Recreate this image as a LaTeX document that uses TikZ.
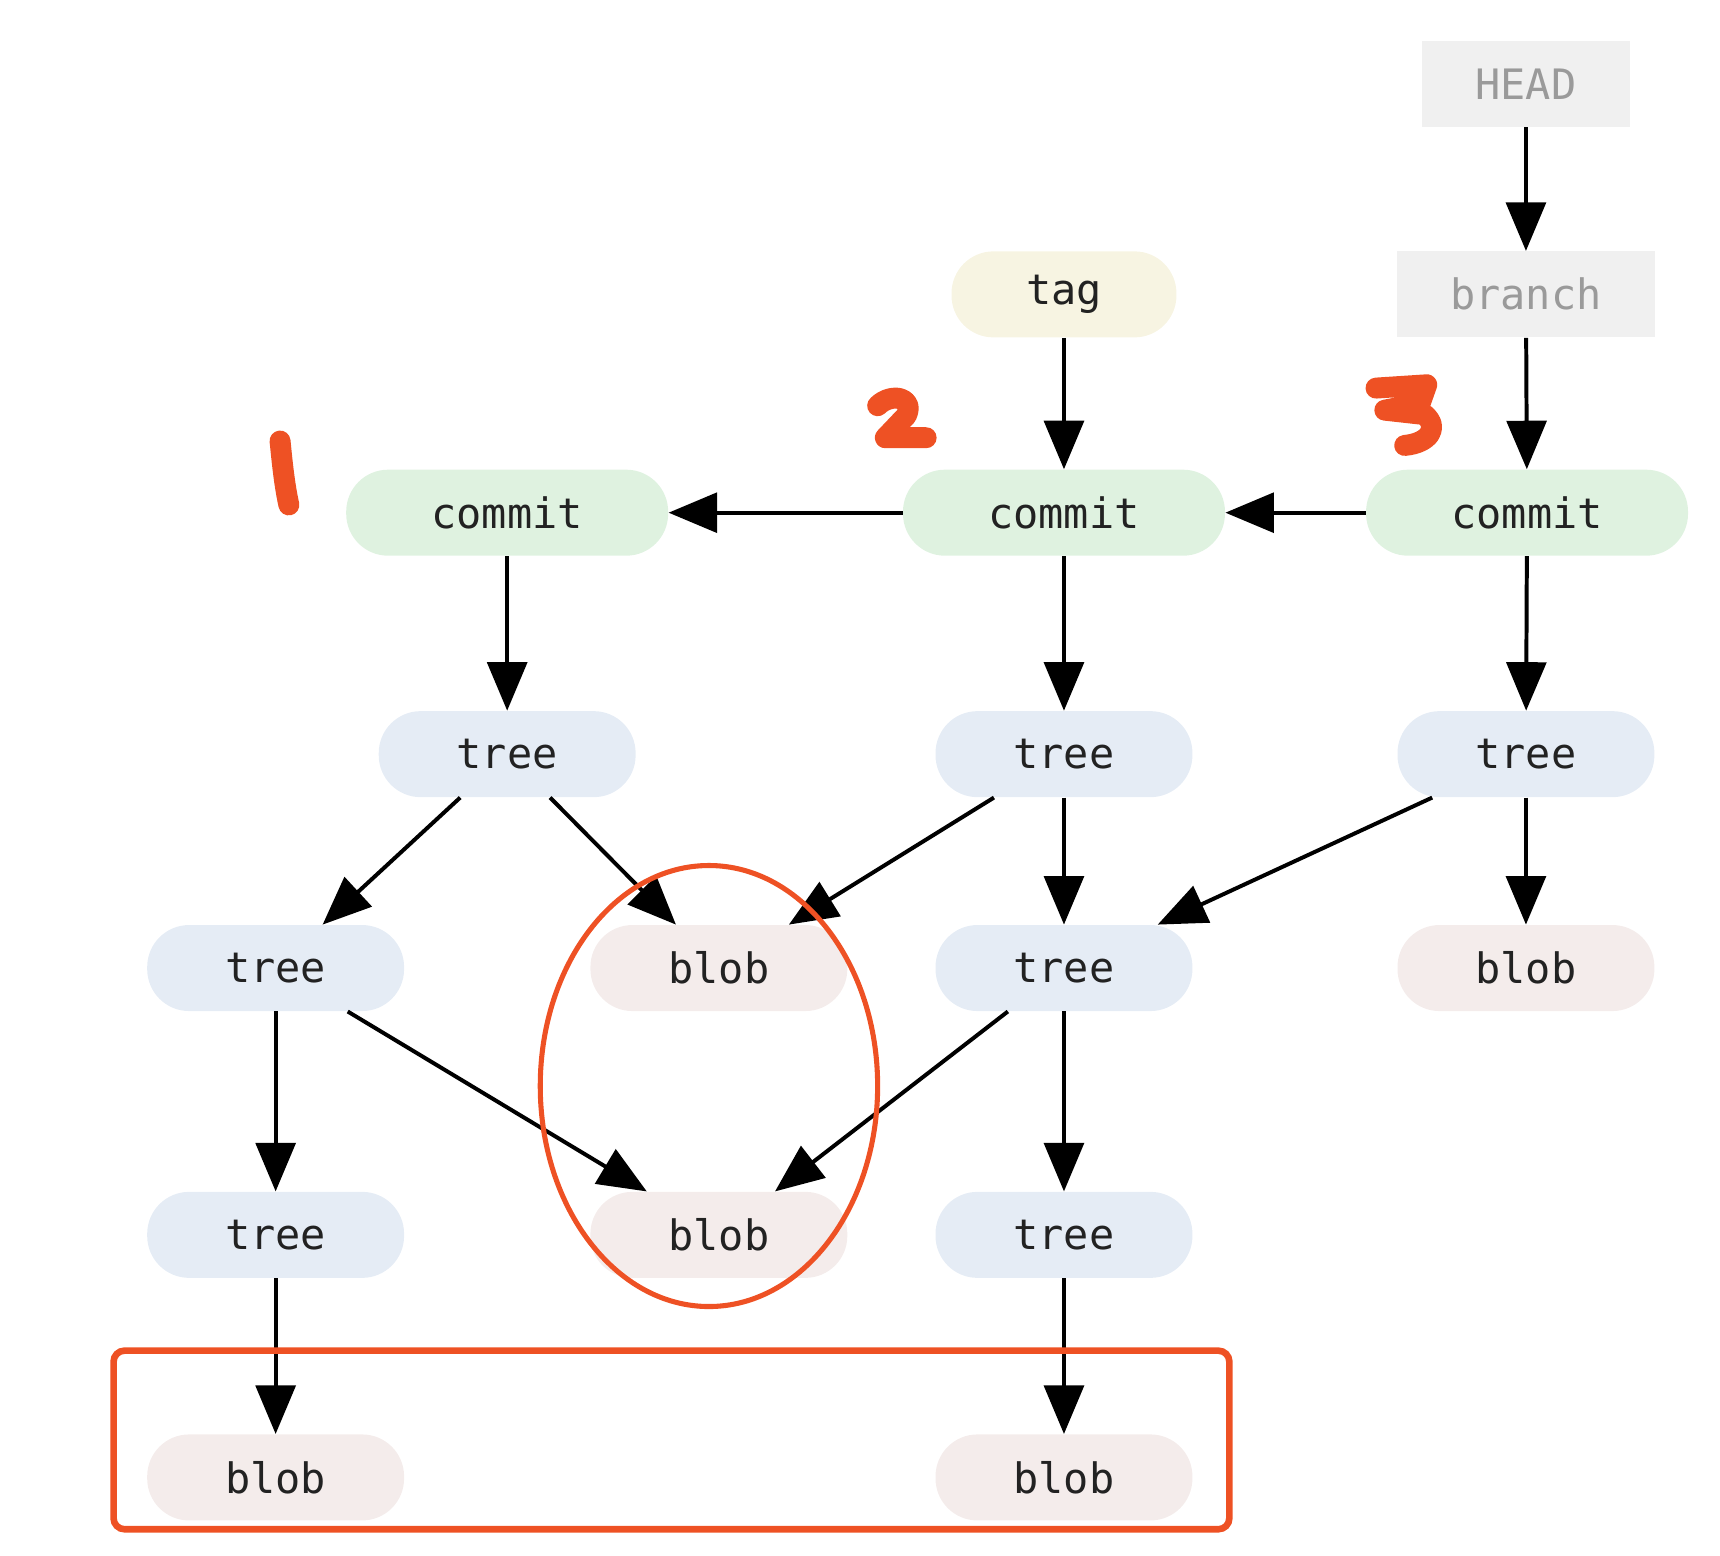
\documentclass[tikz,border=0pt]{standalone}
\usepackage{fontspec}
\setmonofont{DejaVu Sans Mono}
\usetikzlibrary{arrows.meta}
\definecolor{commitfill}{HTML}{DFF2E0}
\definecolor{treefill}{HTML}{E5ECF5}
\definecolor{blobfill}{HTML}{F4ECEB}
\definecolor{tagfill}{HTML}{F7F4E2}
\definecolor{reffill}{HTML}{F0F0F0}
\definecolor{reftext}{HTML}{9A9A9A}
\definecolor{objtext}{HTML}{222222}
\definecolor{handred}{HTML}{EE5124}
\tikzset{
  obj/.style={rectangle, rounded corners=19pt, inner sep=0pt, minimum height=39pt,
    text=objtext, font=\ttfamily\fontsize{19}{22}\selectfont},
  commitnode/.style={obj, fill=commitfill, minimum width=146pt},
  treenode/.style={obj, fill=treefill, minimum width=116.5pt},
  blobnode/.style={obj, fill=blobfill, minimum width=116.5pt},
  tagnode/.style={obj, fill=tagfill, minimum width=102pt},
  refnode/.style={rectangle, inner sep=0pt, minimum height=39pt, fill=reffill,
    text=reftext, font=\ttfamily\fontsize{19}{22}\selectfont},
  link/.style={line width=1.8pt, -{Triangle[length=22pt, width=18pt]}},
  hand/.style={handred, line width=9.5pt, line cap=round, line join=round},
}
\begin{document}
\begin{tikzpicture}[x=0.5pt, y=-0.5pt]
\useasboundingbox (0,0) rectangle (1560,1411);
% refs
\node[refnode, minimum width=94pt] (head) at (1384,76) {HEAD};
\node[refnode, minimum width=117pt] (branch) at (1384,267) {branch};
\node[tagnode] (tag) at (965,267) {tag};
% commits
\node[commitnode] (c1) at (460,465) {commit};
\node[commitnode] (c2) at (965,465) {commit};
\node[commitnode] (c3) at (1385,465) {commit};
% row 1
\node[treenode] (t1) at (460,684) {tree};
\node[treenode] (t2) at (965,684) {tree};
\node[treenode] (t3) at (1384,684) {tree};
% row 2
\node[treenode] (t4) at (250,878) {tree};
\node[blobnode] (b1) at (652,878) {blob};
\node[treenode] (t5) at (965,878) {tree};
\node[blobnode] (b2) at (1384,878) {blob};
% row 3
\node[treenode] (t6) at (250,1120) {tree};
\node[blobnode] (b3) at (652,1120) {blob};
\node[treenode] (t7) at (965,1120) {tree};
% row 4
\node[blobnode] (b4) at (250,1340) {blob};
\node[blobnode] (b5) at (965,1340) {blob};
% arrows
\draw[link] (head) -- (branch);
\draw[link] (branch) -- (c3);
\draw[link] (tag) -- (c2);
\draw[link] (c2) -- (c1);
\draw[link] (c3) -- (c2);
\draw[link] (c1) -- (t1);
\draw[link] (c2) -- (t2);
\draw[link] (c3) -- (t3);
\draw[link] (t1) -- (t4);
\draw[link] (t1) -- (b1);
\draw[link] (t2) -- (b1);
\draw[link] (t2) -- (t5);
\draw[link] (t3) -- (t5);
\draw[link] (t3) -- (b2);
\draw[link] (t4) -- (t6);
\draw[link] (t4) -- (b3);
\draw[link] (t5) -- (b3);
\draw[link] (t5) -- (t7);
\draw[link] (t6) -- (b4);
\draw[link] (t7) -- (b5);
% red annotations
\draw[handred, line width=2.3pt] (643,985) ellipse [x radius=153, y radius=200];
\draw[handred, line width=3pt, rounded corners=5pt] (103,1225) rectangle (1115,1387);
\draw[hand] (254,400) .. controls (256,420) and (258,440) .. (262,458);
\draw[hand] (796,368) .. controls (808,356) and (830,360) .. (822,377) -- (803,397) -- (840,397);
\draw[hand] (1248,352) -- (1294,349) -- (1288,366) -- (1256,372) -- (1292,376)
  .. controls (1306,388) and (1296,402) .. (1274,404);
\end{tikzpicture}
\end{document}
